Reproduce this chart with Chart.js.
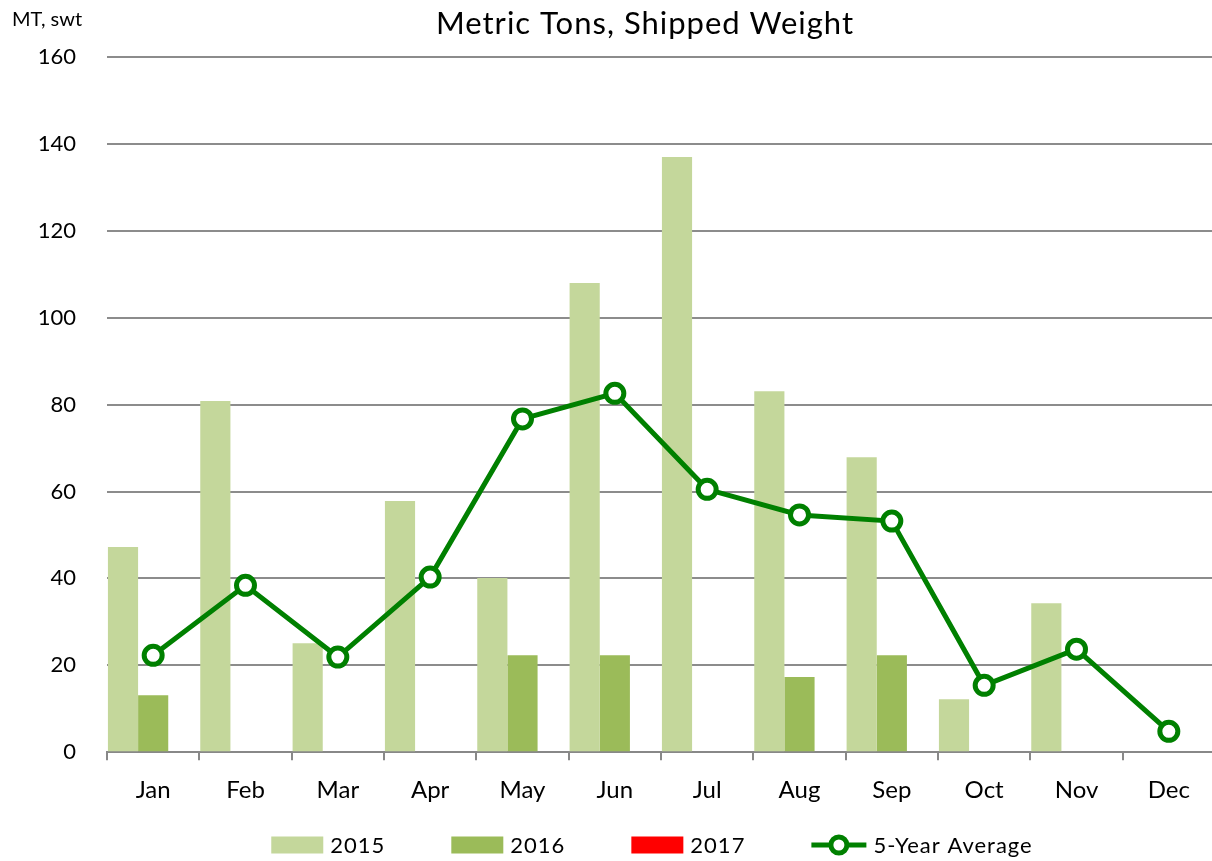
<!DOCTYPE html>
<html><head><meta charset="utf-8">
<script src="https://cdn.jsdelivr.net/npm/chart.js@4.4.0/dist/chart.umd.min.js"></script>
<style>html,body{margin:0;padding:0;background:#fff;overflow:hidden}#wrap{width:1212px;height:861px;position:relative;overflow:hidden}</style>
</head><body><div id="wrap"><canvas id="c" width="1229" height="861"></canvas></div>
<script>
const months = ["Jan","Feb","Mar","Apr","May","Jun","Jul","Aug","Sep","Oct","Nov","Dec"];
const s2015 = [47.2, 80.8, 25.1, 57.8, 40.1, 108, 137, 83.1, 67.9, 12.2, 34.3, 0];
const s2016 = [13.1, 0, 0, 0, 22.3, 22.3, 0, 17.3, 22.3, 0, 0, 0];
const s2017 = [null, null, null, null, null, null, null, null, null, null, null, null];
const avg5 = [22.3, 38.4, 21.9, 40.3, 76.7, 82.6, 60.5, 54.6, 53.2, 15.4, 23.7, 4.8];
const yTicks = [0, 20, 40, 60, 80, 100, 120, 140, 160];
const titleText = "Metric Tons, Shipped Weight";
const unitText = "MT, swt";
const legendOrder = [1, 2, 3, 0];

const textPlugin = {
  id:'texts',
  afterDraw(chart){
    const ctx=chart.ctx;ctx.save();
    ctx.fillStyle='#000';ctx.textBaseline='middle';
    ctx.font='20px Lato';ctx.textAlign='left';ctx.fillText(unitText,12,20);
    ctx.font='31px Lato';ctx.textAlign='center';
    ctx.letterSpacing='1px';
    ctx.fillText(titleText,645,24);
    // legend
    ctx.font='22px Lato';ctx.textAlign='left';ctx.letterSpacing='1px';
    const gapT=7, gapI=66, y=845;
    const items=legendOrder.map(i=>{const d=chart.data.datasets[i];const iw=d.type==='line'?55:52;return {d,iw,w:iw+gapT+ctx.measureText(d.label).width};});
    const total=items.reduce((a,b)=>a+b.w,0)+gapI*(items.length-1);
    let x=652-total/2;
    items.forEach(it=>{
      const d=it.d, iconW=it.iw;
      if(d.type==='line'){
        ctx.strokeStyle=d.borderColor;ctx.lineWidth=5;ctx.beginPath();ctx.moveTo(x,y);ctx.lineTo(x+iconW,y);ctx.stroke();
        ctx.beginPath();ctx.arc(x+iconW/2,y,8,0,Math.PI*2);ctx.fillStyle='#fff';ctx.fill();ctx.lineWidth=5;ctx.stroke();
      } else {
        ctx.fillStyle=d.backgroundColor;ctx.fillRect(x,y-8.5,iconW,17);
      }
      ctx.fillStyle='#000';ctx.fillText(d.label,x+iconW+gapT,y+1);
      x+=it.w+gapI;
    });
    ctx.restore();
  }
};

new Chart(document.getElementById('c'),{
  type:'bar',
  data:{labels:months,datasets:[
    {type:'line',label:'5-Year Average',data:avg5,borderColor:'#008000',borderWidth:5,pointRadius:9,pointHoverRadius:9,pointBorderWidth:5,pointBackgroundColor:'#fff',pointBorderColor:'#008000',fill:false,tension:0,order:0,pointStyle:'circle'},
    {label:'2015',data:s2015,backgroundColor:'#C4D79B',order:1},
    {label:'2016',data:s2016,backgroundColor:'#9BBB59',order:1},
    {label:'2017',data:s2017,backgroundColor:'#FF0000',order:1}
  ]},
  options:{
    responsive:false,animation:false,
    layout:{padding:{top:57,right:0,left:0,bottom:40}},
    datasets:{bar:{categoryPercentage:0.98,barPercentage:1}},
    plugins:{
      title:{display:false},
      tooltip:{enabled:false},
      legend:{display:false}
    },
    scales:{
      x:{offset:true,grid:{display:true,drawOnChartArea:false,offset:true,tickLength:8,color:'#888',lineWidth:2},border:{color:'#888',width:2},
        ticks:{font:{family:'Lato',size:24},color:'#000',padding:16}},
      y:{min:0,max:160,afterFit(s){s.width=107;},
        afterBuildTicks(s){s.ticks=yTicks.map(v=>({value:v}));},
        grid:{color:'#8c8c8c',lineWidth:2,drawTicks:false},border:{display:false},
        ticks:{font:{family:'Lato',size:22},color:'#000',padding:31}}
    }
  },
  plugins:[textPlugin]
});
</script></body></html>
